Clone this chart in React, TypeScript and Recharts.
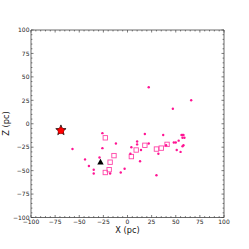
import { ScatterChart, Scatter, XAxis, YAxis } from 'recharts';

// small filled markers (X, Z in pc)
const dotX = [22, 66, 47, -57, -26, -26, -12, -44, -40, -35, -35, -29, -18, -7, -3, 3, 4, 10, 10, 14, 13, 18, 22, 30, 32, 37, 40, 48, 50, 51, 53, 55, 56, 57, 58, 57, 59, 58, 57];
const dotZ = [39, 25, 16, -27, -10, -26, -21, -38, -45, -49, -53, -36, -53, -52, -48, -32, -25, -22, -19, -28, -40, -11, -21, -55, -32, -12, -23, -20, -20, -28, -18, -30, -12, -12, -12, -15, -15, -23, -24];

// open squares
const boxX = [-23, -14, -18, -19, -23, 4, 9, 18, 30, 35, 41];
const boxZ = [-15, -34, -41, -49, -52, -35, -28, -23, -27, -26, -22];

const starX = [-69];
const starZ = [-7];
const triX = [-28];
const triZ = [-41];

const majorTicks = [-100, -75, -50, -25, 0, 25, 50, 75, 100];
const minorSteps = [5, 10, 15, 20];

const allTicks = majorTicks.flatMap((t) =>
  t < 100 ? [t, ...minorSteps.map((s) => t + s)] : [t]
);

const pts = (xs: number[], zs: number[]) => xs.map((x, i) => ({ x, z: zs[i] }));
const dots = pts(dotX, dotZ);
const boxes = pts(boxX, boxZ);
const stars = pts(starX, starZ);
const tris = pts(triX, triZ);

const FRAME = '#444';
const fmt = (v: number) => (v < 0 ? '\u2212' + Math.abs(v) : String(v));
const isMajor = (v: number) => v % 25 === 0;
const tickLen = (v: number) => (isMajor(v) ? 2.5 : 1.4);
const font = 'DejaVu Sans, sans-serif';

const BottomTick = (p: any) => {
  const { x, y, payload } = p;
  const v = payload.value;
  return (
    <g>
      <line x1={x} x2={x} y1={y} y2={y - tickLen(v)} stroke={FRAME} strokeWidth={0.7} />
      {isMajor(v) && (
        <text x={x} y={y + 6.5} textAnchor="middle" fontSize={6} fontFamily={font} fill="#222">
          {fmt(v)}
        </text>
      )}
    </g>
  );
};

// top axis is 1px tall, so its tick anchor sits at the plot top
const TopTick = (p: any) => {
  const { x, y, payload } = p;
  return <line x1={x} x2={x} y1={y} y2={y + tickLen(payload.value)} stroke={FRAME} strokeWidth={0.7} />;
};

const LeftTick = (p: any) => {
  const { x, y, payload } = p;
  const v = payload.value;
  return (
    <g>
      <line x1={x} x2={x + tickLen(v)} y1={y} y2={y} stroke={FRAME} strokeWidth={0.7} />
      {isMajor(v) && (
        <text x={x - 1.5} y={y + 2.2} textAnchor="end" fontSize={6} fontFamily={font} fill="#222">
          {fmt(v)}
        </text>
      )}
    </g>
  );
};

const RightTick = (p: any) => {
  const { x, y, payload } = p;
  return <line x1={x} x2={x - tickLen(payload.value)} y1={y} y2={y} stroke={FRAME} strokeWidth={0.7} />;
};

const DotShape = (p: any) => <circle cx={p.cx} cy={p.cy} r={1.2} fill="#ff1493" />;

const BoxShape = (p: any) => (
  <rect x={p.cx - 2.2} y={p.cy - 2.2} width={4.4} height={4.4} fill="none" stroke="#ff45a8" strokeWidth={0.9} />
);

const StarShape = (p: any) => {
  const { cx, cy } = p;
  const R = 5.4;
  const r = 2.3;
  let d = '';
  for (let i = 0; i < 10; i++) {
    const a = -Math.PI / 2 + (i * Math.PI) / 5;
    const rr = i % 2 === 0 ? R : r;
    d += (i === 0 ? 'M' : 'L') + (cx + rr * Math.cos(a)) + ',' + (cy + rr * Math.sin(a));
  }
  return (
    <g>
      <path d={d + 'Z'} fill="#ff0000" stroke="#111" strokeWidth={0.8} strokeLinejoin="miter" />
      <circle cx={cx} cy={cy + 0.4} r={3.1} fill="#ff0000" stroke="#700" strokeWidth={0.3} />
    </g>
  );
};

const TriShape = (p: any) => {
  const { cx, cy } = p;
  return <path d={`M${cx},${cy - 3.4}L${cx + 3.2},${cy + 2.4}L${cx - 3.2},${cy + 2.4}Z`} fill="#000" />;
};

export default function App() {
  return (
    <div style={{ position: 'absolute', left: 0, top: 0, width: 249, height: 249, background: '#fff' }}>
      <ScatterChart width={249} height={249} margin={{ top: 29, right: 24, left: 0, bottom: 0 }}>
        <XAxis
          xAxisId="b"
          dataKey="x"
          type="number"
          domain={[-100, 100]}
          ticks={allTicks}
          interval={0}
          height={31.5}
          tickSize={0}
          tickMargin={0}
          tick={<BottomTick />}
          tickLine={false}
          axisLine={{ stroke: FRAME, strokeWidth: 0.8 }}
          allowDataOverflow
        />
        <XAxis
          xAxisId="t"
          orientation="top"
          dataKey="x"
          type="number"
          domain={[-100, 100]}
          ticks={allTicks}
          interval={0}
          height={1}
          tickSize={0}
          tickMargin={0}
          tick={<TopTick />}
          tickLine={false}
          axisLine={{ stroke: FRAME, strokeWidth: 0.8 }}
          allowDataOverflow
        />
        <YAxis
          yAxisId="l"
          dataKey="z"
          type="number"
          domain={[-100, 100]}
          ticks={allTicks}
          interval={0}
          width={31}
          tickSize={0}
          tickMargin={0}
          tick={<LeftTick />}
          tickLine={false}
          axisLine={{ stroke: FRAME, strokeWidth: 0.8 }}
          allowDataOverflow
        />
        <YAxis
          yAxisId="r"
          orientation="right"
          dataKey="z"
          type="number"
          domain={[-100, 100]}
          ticks={allTicks}
          interval={0}
          width={1}
          tickSize={0}
          tickMargin={0}
          tick={<RightTick />}
          tickLine={false}
          axisLine={{ stroke: FRAME, strokeWidth: 0.8 }}
          allowDataOverflow
        />
        <Scatter xAxisId="b" yAxisId="l" data={boxes} shape={<BoxShape />} isAnimationActive={false} />
        <Scatter xAxisId="b" yAxisId="l" data={dots} shape={<DotShape />} isAnimationActive={false} />
        <Scatter xAxisId="b" yAxisId="l" data={stars} shape={<StarShape />} isAnimationActive={false} />
        <Scatter xAxisId="b" yAxisId="l" data={tris} shape={<TriShape />} isAnimationActive={false} />
        <text x={127.5} y={233} textAnchor="middle" fontSize={8.2} fontFamily={font} fill="#111">
          X (pc)
        </text>
        <text
          x={6}
          y={123.5}
          textAnchor="middle"
          dominantBaseline="central"
          transform="rotate(-90 6 123.5)"
          fontSize={8.2}
          fontFamily={font}
          fill="#111"
        >
          Z (pc)
        </text>
      </ScatterChart>
    </div>
  );
}
